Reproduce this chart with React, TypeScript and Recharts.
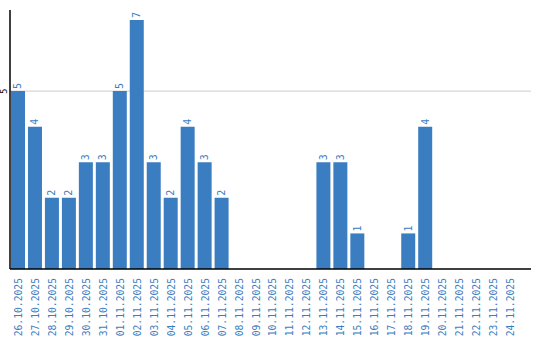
import React from "react";
import { BarChart, Bar, XAxis, YAxis, CartesianGrid, LabelList } from "recharts";

const dates = [
  "26.10.2025", "27.10.2025", "28.10.2025", "29.10.2025", "30.10.2025", "31.10.2025",
  "01.11.2025", "02.11.2025", "03.11.2025", "04.11.2025", "05.11.2025", "06.11.2025",
  "07.11.2025", "08.11.2025", "09.11.2025", "10.11.2025", "11.11.2025", "12.11.2025",
  "13.11.2025", "14.11.2025", "15.11.2025", "16.11.2025", "17.11.2025", "18.11.2025",
  "19.11.2025", "20.11.2025", "21.11.2025", "22.11.2025", "23.11.2025", "24.11.2025",
];
const counts = [5, 4, 2, 2, 3, 3, 5, 7, 3, 2, 4, 3, 2, 0, 0, 0, 0, 0, 3, 3, 1, 0, 0, 1, 4, 0, 0, 0, 0, 0];
const yTicks = [5];
const yMax = 7.28;

const data = dates.map((d, i) => ({ date: d, value: counts[i] }));

const BLUE = "#3b7dc1";
const FONT = "'DejaVu Sans Mono', monospace";

const XTick = (props: any) => {
  const { x, payload } = props;
  const y = props.y + 3;
  return (
    <text
      x={x}
      y={y}
      transform={`rotate(-90, ${x}, ${y})`}
      textAnchor="end"
      dominantBaseline="central"
      fill={BLUE}
      fontSize={9.7}
      fontFamily={FONT}
    >
      {payload.value}
    </text>
  );
};

const YTick = (props: any) => {
  const { y, payload } = props;
  const x = 4;
  return (
    <text
      x={x}
      y={y}
      transform={`rotate(-90, ${x}, ${y})`}
      textAnchor="middle"
      dominantBaseline="central"
      fill="#000"
      fontSize={8.5}
      fontFamily={FONT}
    >
      {payload.value}
    </text>
  );
};

const BarLabel = (props: any) => {
  const { x, y, width, value } = props;
  if (!value) return null;
  const cx = x + width / 2;
  const cy = y - 2;
  return (
    <text
      x={cx}
      y={cy}
      transform={`rotate(-90, ${cx}, ${cy})`}
      textAnchor="start"
      dominantBaseline="central"
      fill={BLUE}
      fontSize={10}
      fontFamily={FONT}
    >
      {value}
    </text>
  );
};

const gridGen = (p: any) => {
  const off = p && p.offset ? p.offset : { top: 10, height: 259 };
  return yTicks.map((t) => off.top + off.height * (1 - t / yMax));
};

export default function App() {
  return (
    <div style={{ position: "absolute", left: 0, top: 0, width: 540, height: 340, background: "#fff" }}>
      <BarChart
        width={540}
        height={340}
        data={data}
        margin={{ top: 10, right: 9, bottom: 0, left: 0 }}
        barSize={14}
      >
        <CartesianGrid
          vertical={false}
          stroke="#cccccc"
          horizontalCoordinatesGenerator={gridGen}
        />
        <XAxis
          dataKey="date"
          interval={0}
          height={71}
          tickLine={false}
          axisLine={{ stroke: "#000", strokeWidth: 1.5 }}
          tick={<XTick />}
          tickMargin={0}
          padding={{ left: 0, right: 12 }}
        />
        <YAxis
          width={10}
          domain={[0, yMax]}
          ticks={yTicks}
          tickLine={false}
          axisLine={{ stroke: "#000", strokeWidth: 1.5 }}
          tick={<YTick />}
        />
        <Bar dataKey="value" fill={BLUE} isAnimationActive={false}>
          <LabelList dataKey="value" content={<BarLabel />} />
        </Bar>
      </BarChart>
    </div>
  );
}
